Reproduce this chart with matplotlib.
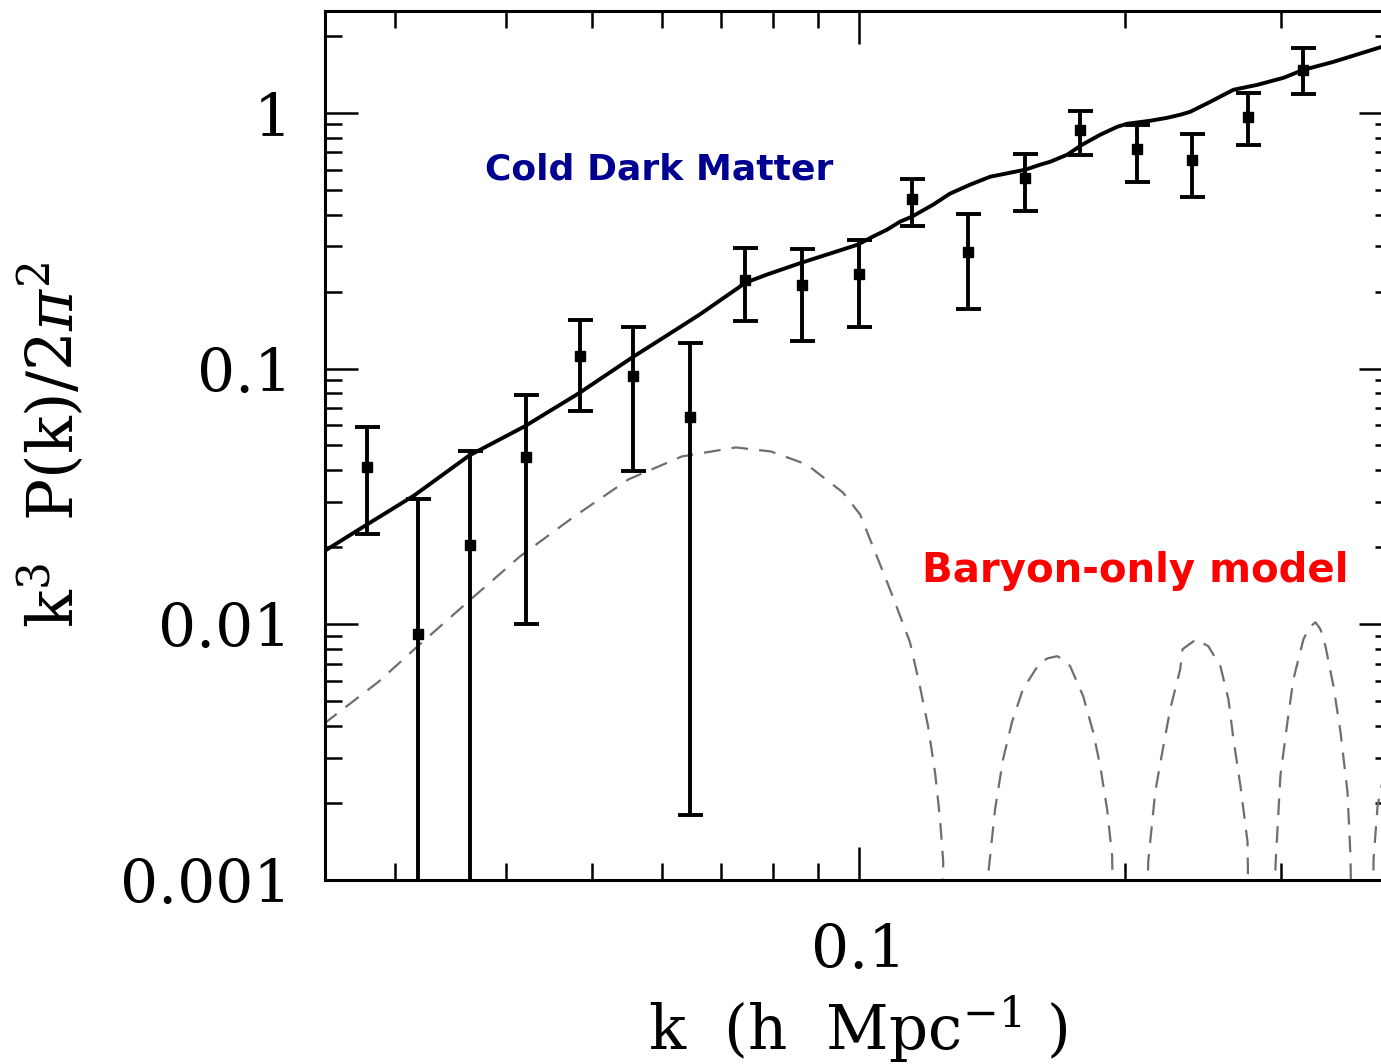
import numpy as np
import matplotlib
matplotlib.use("Agg")
import matplotlib.pyplot as plt
from matplotlib.ticker import LogLocator, FixedLocator, FixedFormatter, NullFormatter

# ---------------- data ----------------
# measured band powers (k in h/Mpc, value = k^3 P(k) / 2pi^2)
k_data = [0.0279, 0.0318, 0.0364, 0.0421, 0.0485, 0.0557, 0.0645, 0.0744, 0.0863,
          0.100, 0.115, 0.133, 0.154, 0.178, 0.206, 0.238, 0.275, 0.317]
p_data = [0.0411, 0.00914, 0.0205, 0.0449, 0.1124, 0.0931, 0.0644, 0.2227, 0.2129,
          0.2350, 0.4613, 0.2864, 0.5575, 0.8583, 0.7235, 0.6554, 0.9647, 1.472]
p_hi = [0.0588, 0.0308, 0.0474, 0.0791, 0.1553, 0.1459, 0.1263, 0.2970, 0.2943,
        0.3191, 0.5524, 0.4031, 0.6917, 1.018, 0.8978, 0.8279, 1.197, 1.794]
# lower ends of the error bars (1e-4 = bar runs off the bottom of the plot)
p_lo = [0.0225, 1e-4, 1e-4, 0.0100, 0.0685, 0.0396, 0.00179, 0.1527, 0.1286,
        0.1459, 0.3618, 0.1715, 0.4142, 0.6855, 0.5377, 0.4697, 0.7499, 1.186]

# Cold Dark Matter model curve
k_cdm = [0.02494, 0.02790, 0.03153, 0.03638, 0.04198, 0.04831, 0.05575, 0.06075,
         0.06619, 0.07461, 0.07880, 0.08630, 0.09356, 0.0998, 0.1038, 0.1077,
         0.1114, 0.1149, 0.1214, 0.1268, 0.1336, 0.1408, 0.1483, 0.1542, 0.1603,
         0.1646, 0.1720, 0.1788, 0.1874, 0.1959, 0.2011, 0.2134, 0.2231, 0.2307,
         0.2368, 0.2495, 0.2649, 0.2819, 0.3017, 0.3178, 0.3436, 0.3894, 0.40]
p_cdm = [0.01929, 0.02458, 0.03191, 0.04573, 0.05935, 0.07985, 0.1114, 0.1345,
         0.1626, 0.2168, 0.2329, 0.2595, 0.2838, 0.3050, 0.3279, 0.3491,
         0.3751, 0.3925, 0.4372, 0.4826, 0.5233, 0.5623, 0.5829, 0.5989, 0.6264,
         0.6435, 0.6855, 0.7499, 0.8204, 0.8816, 0.9059, 0.9306, 0.9560, 0.9822,
         1.009, 1.104, 1.230, 1.286, 1.370, 1.472, 1.582, 1.810, 1.860]

# Baryon-only model curve (1e-4 marks where it drops to zero)
k_bar = [0.0249, 0.0287, 0.0318, 0.0362, 0.0415, 0.0478, 0.0550, 0.0632, 0.0727,
         0.0796, 0.0874, 0.0960, 0.1004, 0.1038, 0.1093, 0.1143, 0.1173, 0.1198,
         0.1220, 0.1236, 0.1246, 0.1255,
         0.1389, 0.1400, 0.1426, 0.1456, 0.1490, 0.1533, 0.1603, 0.1637, 0.1676,
         0.1707, 0.1733, 0.1793, 0.1840, 0.1874, 0.1908, 0.1933, 0.1953,
         0.2101, 0.2123, 0.2162, 0.2202, 0.2248, 0.2307, 0.2321, 0.2406, 0.2482,
         0.2561, 0.2615, 0.2649, 0.2698, 0.2748, 0.2776,
         0.2932, 0.2955, 0.2993, 0.3048, 0.3096, 0.3178, 0.3228, 0.3279, 0.3321,
         0.3365, 0.3436, 0.3499, 0.3563, 0.3591, 0.3629,
         0.3783, 0.3813, 0.3853, 0.3904, 0.40]
p_bar = [0.00407, 0.00594, 0.00820, 0.01219, 0.01843, 0.02642, 0.03684, 0.04531, 0.04914,
         0.04740, 0.04217, 0.03278, 0.02690, 0.02017, 0.01286, 0.00851, 0.00572, 0.00400,
         0.00264, 0.00173, 0.00119, 1e-4,
         1e-4, 0.00103, 0.00189, 0.00297, 0.00414, 0.00557, 0.00710, 0.00737, 0.00750,
         0.00723, 0.00686, 0.00523, 0.00379, 0.00279, 0.00189, 0.00124, 1e-4,
         1e-4, 0.00118, 0.00221, 0.00316, 0.00466, 0.00667, 0.00799, 0.00874, 0.00820,
         0.00686, 0.00509, 0.00356, 0.00233, 0.00141, 1e-4,
         1e-4, 0.00113, 0.00255, 0.00414, 0.00610, 0.00874, 0.00973, 0.01018, 0.00956,
         0.00820, 0.00572, 0.00379, 0.00221, 0.00124, 1e-4,
         1e-4, 0.00121, 0.00195, 0.00245, 0.0030]

y_ticks = [0.001, 0.01, 0.1, 1]
y_ticklabels = ["0.001", "0.01", "0.1", "1"]
x_ticks = [0.1]
x_ticklabels = ["0.1"]

# ---------------- figure ----------------
plt.rcParams['lines.scale_dashes'] = False
plt.rcParams['mathtext.fontset'] = 'dejavuserif'

W, H = 1381, 1064
fig = plt.figure(figsize=(W / 100, H / 100), dpi=100)
ax = fig.add_axes([325 / W, (H - 880) / H, (1392 - 325) / W, (880 - 11) / H])
ax.set_xscale('log')
ax.set_yscale('log')
ax.set_xlim(0.025, 0.4)
ax.set_ylim(0.001, 2.5)

# baryon-only model (dashed grey)
ax.plot(k_bar, p_bar, color='#6e6e6e', lw=1.6, dashes=(12, 8), zorder=2,
        solid_joinstyle='round', dash_joinstyle='round')

# CDM model
ax.plot(k_cdm, p_cdm, color='black', lw=2.8, zorder=3,
        solid_capstyle='round', solid_joinstyle='round')

# data points
k_arr = np.array(k_data)
p_arr = np.array(p_data)
yerr = np.vstack([p_arr - np.array(p_lo), np.array(p_hi) - p_arr])
ax.errorbar(k_arr, p_arr, yerr=yerr, fmt='s', color='black', ms=7,
            elinewidth=2.8, capsize=9, capthick=2.8, zorder=4)

# ticks
for s in ax.spines.values():
    s.set_linewidth(2.2)
ax.tick_params(which='both', direction='in', top=True, right=True, width=1.8,
               labelsize=43, pad=24)
ax.tick_params(which='major', length=24)
ax.tick_params(which='minor', length=12)
ax.tick_params(axis='x', which='major', pad=30)
ax.xaxis.set_major_locator(FixedLocator(x_ticks))
ax.xaxis.set_major_formatter(FixedFormatter(x_ticklabels))
ax.xaxis.set_minor_locator(LogLocator(base=10, subs=np.arange(2, 10)))
ax.xaxis.set_minor_formatter(NullFormatter())
ax.yaxis.set_major_locator(FixedLocator(y_ticks))
ax.yaxis.set_major_formatter(FixedFormatter(y_ticklabels))
ax.yaxis.set_minor_locator(LogLocator(base=10, subs=np.arange(2, 10)))
ax.yaxis.set_minor_formatter(NullFormatter())
for lab in ax.get_xticklabels() + ax.get_yticklabels():
    lab.set_fontfamily('DejaVu Serif')

# axis labels
fig.text(858 / W, (H - 1050) / H, r'k  (h  Mpc$^{-1}$ )', ha='center', va='baseline',
         fontsize=44, family='DejaVu Serif')
fig.text(52 / W, (H - 445) / H, r'k$^3$  P(k)/2$\pi^2$', ha='center', va='center',
         rotation=90, fontsize=45, family='DejaVu Serif')

# annotations
fig.text(659 / W, (H - 180) / H, 'Cold Dark Matter', ha='center', va='baseline',
         fontsize=26, fontweight='bold', color='#000090', family='DejaVu Sans')
fig.text(1135 / W, (H - 582) / H, 'Baryon-only model', ha='center', va='baseline',
         fontsize=29, fontweight='bold', color='#ff0000', family='DejaVu Sans')

fig.savefig('out.png', dpi=100)
